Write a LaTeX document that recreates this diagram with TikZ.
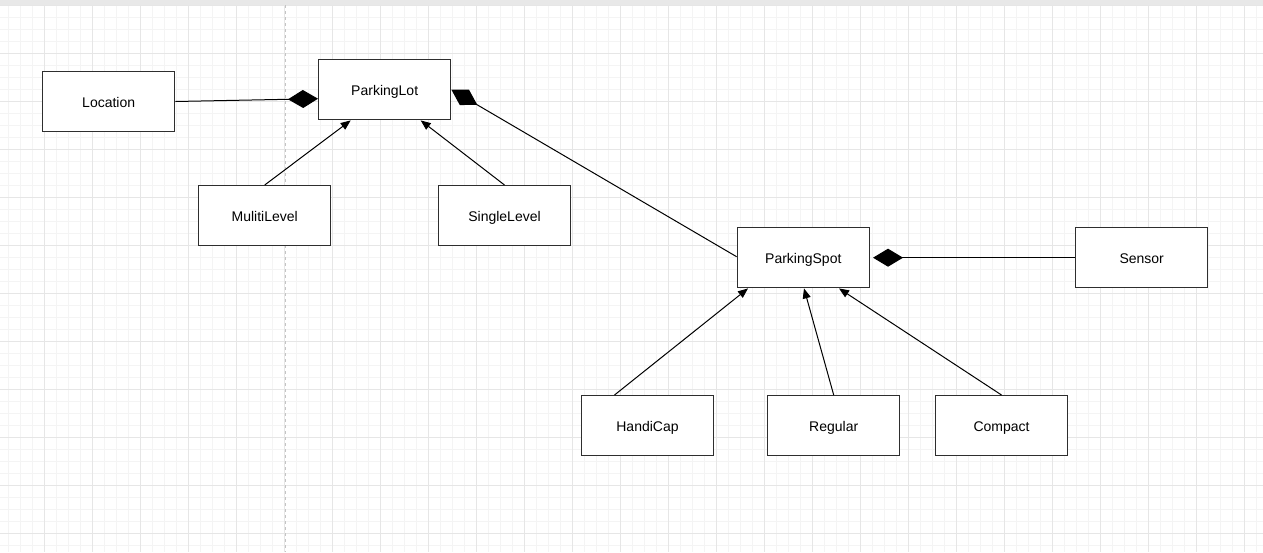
\documentclass[tikz,border=0pt]{standalone}
\usepackage{fontspec}
\setmainfont{Liberation Sans}
\usetikzlibrary{arrows.meta}
\definecolor{minorgrid}{HTML}{F4F4F4}
\definecolor{majorgrid}{HTML}{E6E6E6}
\definecolor{topbar}{HTML}{E8E8E8}
\definecolor{boxline}{HTML}{2E2E2E}
\definecolor{guide}{HTML}{C4C4C4}
\tikzset{
  classbox/.style={draw=boxline, line width=1.4pt, fill=white, minimum width=132pt, minimum height=60pt, inner sep=0pt, text height=11pt, text depth=0pt, font=\fontsize{14}{16}\selectfont, text=black},
  comp/.style={draw=black, line width=1pt, {Diamond[length=30pt,width=18pt,fill=black]}-},
  inh/.style={draw=black, line width=1pt, -{Triangle[length=10pt,width=8pt,fill=black]}},
  minorline/.style={draw=minorgrid, line width=1pt},
  majorline/.style={draw=majorgrid, line width=1pt}
}
\begin{document}
\begin{tikzpicture}[x=1pt,y=-1pt]
\useasboundingbox (0,0) rectangle (1263,552);
\fill[white] (0,0) rectangle (1263,552);
% grid
\foreach \i in {0,...,104} \draw[minorline] ({8.3+12*\i},5) -- ({8.3+12*\i},552);
\foreach \j in {0,...,45} \draw[minorline] (0,{5.3+12*\j}) -- (1263,{5.3+12*\j});
\foreach \i in {0,...,25} \draw[majorline] ({44.3+48*\i},5) -- ({44.3+48*\i},552);
\foreach \j in {0,...,11} \draw[majorline] (0,{5.3+48*\j}) -- (1263,{5.3+48*\j});
\fill[topbar] (0,0) rectangle (1263,5);
\draw[guide, line width=1pt, dash pattern=on 3pt off 3pt] (285,5) -- (285,552);
% nodes
\node[classbox] (loc) at (108.7,101.5) {Location};
\node[classbox] (lot) at (384.7,89.7) {ParkingLot};
\node[classbox] (multi) at (264.7,215.7) {MulitiLevel};
\node[classbox] (single) at (504.5,215.7) {SingleLevel};
\node[classbox] (spot) at (803.3,257.7) {ParkingSpot};
\node[classbox] (sensor) at (1141.7,257.7) {Sensor};
\node[classbox] (handi) at (647.5,425.7) {HandiCap};
\node[classbox] (regular) at (833.7,425.7) {Regular};
\node[classbox] (compact) at (1001.5,425.7) {Compact};
% composition
\draw[comp] ([yshift=-9pt]lot.west) -- (loc.east);
\draw[comp] (lot.east) -- ([yshift=1pt]spot.west);
\draw[comp, shorten <=3pt] (spot.east) -- (sensor.west);
% inheritance
\draw[inh] (multi.north) -- ([xshift=-34pt]lot.south);
\draw[inh] (single.north) -- ([xshift=36pt]lot.south);
\draw[inh] ([xshift=-33pt]handi.north) -- ([xshift=-55.3pt]spot.south);
\draw[inh] (regular.north) -- ([xshift=0.7pt]spot.south);
\draw[inh] (compact.north) -- ([xshift=35.7pt]spot.south);
\end{tikzpicture}
\end{document}
